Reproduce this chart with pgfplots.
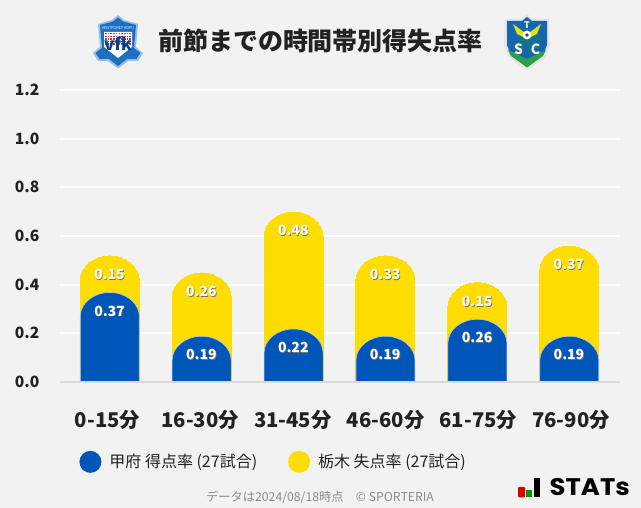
\documentclass[border=0pt]{standalone}
\usepackage{fontspec}
\setmainfont{Noto Sans CJK JP}
\newfontfamily\statsfont{Poppins}
\usepackage{pgfplots}
\usepackage{pgfplotstable}
\pgfplotsset{compat=1.18}
\definecolor{bg}{HTML}{F2F2F2}
\definecolor{kofu}{HTML}{0056B8}
\definecolor{tochigi}{HTML}{FFDD00}
\definecolor{baseln}{HTML}{D9D9D9}
\definecolor{txt}{HTML}{222222}
\definecolor{vfblue}{HTML}{1F6FC0}
\definecolor{vfred}{HTML}{C8324A}
\definecolor{tsblue}{HTML}{1565B0}
\definecolor{tsgreen}{HTML}{2E9E4F}
\pgfplotstableread{
i gf ga
0 0.37 0.15
1 0.19 0.26
2 0.22 0.48
3 0.19 0.33
4 0.26 0.15
5 0.19 0.37
}\ratedata
\pgfdeclareplotmark{roundbar}{%
  \pgfpathmoveto{\pgfqpoint{-29.2pt}{-400pt}}%
  \pgfpathlineto{\pgfqpoint{-29.2pt}{-24.5pt}}%
  \pgfpathcurveto{\pgfqpoint{-29.2pt}{-11.25pt}}{\pgfqpoint{-16pt}{-0.5pt}}{\pgfqpoint{0.3pt}{-0.5pt}}%
  \pgfpathcurveto{\pgfqpoint{16.6pt}{-0.5pt}}{\pgfqpoint{29.8pt}{-11.25pt}}{\pgfqpoint{29.8pt}{-24.5pt}}%
  \pgfpathlineto{\pgfqpoint{29.8pt}{-400pt}}%
  \pgfpathclose
  \pgfusepathqfillstroke
}
\newcommand{\shadowed}[1]{\rlap{\kern0.7pt\raisebox{-0.7pt}{\textcolor{black!55}{#1}}}\textcolor{white}{#1}}
\begin{document}
\begin{tikzpicture}[x=1pt,y=1pt]
\fill[bg] (0,0) rectangle (641,508);
\path[use as bounding box] (0,0) rectangle (641,508);
\begin{axis}[
  at={(60pt,126pt)}, anchor=south west,
  scale only axis, width=560pt, height=292pt,
  xmin=-0.5386, xmax=5.555, ymin=0, ymax=1.2,
  axis line style={draw=none},
  axis x line*=bottom, axis y line*=left,
  ytick={0,0.2,0.4,0.6,0.8,1.0,1.2},
  /pgf/number format/fixed,
  /pgf/number format/zerofill,
  /pgf/number format/precision=1,
  /pgf/number format/assume math mode=true,
  yticklabel style={font=\fontsize{15.6}{16}\selectfont\bfseries, text=txt, xshift=-17pt},
  major tick length=0pt,
  ymajorgrids, grid style={white,line width=2pt},
  xtick={0,1,2,3,4,5},
  xticklabels={0-15分,16-30分,31-45分,46-60分,61-75分,76-90分},
  xticklabel style={font=\fontsize{20.3}{21}\selectfont\bfseries, text=txt, yshift=-24.5pt, xshift={(\ticknum-2.5)*0.8pt}},
  clip mode=individual, clip marker paths=true,
  point meta=explicit,
  nodes near coords={\shadowed{\pgfmathprintnumber[fixed,zerofill,precision=2]{\pgfplotspointmeta}}},
  every node near coord/.style={anchor=center, yshift=-19.5pt, font=\fontsize{14}{14}\selectfont\bfseries, inner sep=0pt},
  legend columns=2,
  legend style={at={(0.0236,-0.2735)}, anchor=west, draw=none, fill=none, font=\fontsize{16}{16}\selectfont, text=txt, /tikz/every even column/.append style={column sep=23pt}, inner sep=0pt},
  legend cell align=left,
]
\addlegendimage{legend image code/.code={\path[draw=none,fill=none] (-17pt,0pt) -- (17pt,0pt); \fill[kofu,draw=none] (0pt,0pt) circle (11pt);}}
\addlegendentry{甲府 得点率 (27試合)}
\addlegendimage{legend image code/.code={\path[draw=none,fill=none] (-17pt,0pt) -- (17pt,0pt); \fill[tochigi,draw=none] (0pt,0pt) circle (11pt);}}
\addlegendentry{栃木 失点率 (27試合)}
\addplot[forget plot, only marks, mark=roundbar, mark options={fill=tochigi,draw=tochigi,line width=0pt}]
  table[x=i, y expr=\thisrow{gf}+\thisrow{ga}, meta=ga] {\ratedata};
\addplot[forget plot, only marks, mark=roundbar, mark options={fill=kofu,draw=white!70!kofu,line width=0.6pt}]
  table[x=i, y=gf, meta=gf] {\ratedata};
\draw[baseln,line width=2pt] (axis cs:-0.5386,0) -- (axis cs:5.555,0);
\end{axis}
\node[anchor=center, text=txt, font=\fontsize{25}{25}\selectfont\bfseries] at (320.5,467) {前節までの時間帯別得失点率};
\node[anchor=center,inner sep=0pt,text=black!45,font=\fontsize{12.25}{12.5}\selectfont] at (320,11) {データは2024/08/18時点\quad © SPORTERIA};
% emblems and STATs logo, in pixel coordinates of the reference
\begin{scope}[shift={(0,508)},y=-1pt]
  % Kofu emblem
  \fill[white!55!vfblue] (118,15) -- (124,20) -- (138,24) -- (136,47) -- (143,53) -- (138,61) -- (128,61) -- (118,68.5) -- (108,61) -- (98,61) -- (93,53) -- (100,47) -- (98,24) -- (112,20) -- cycle;
  \fill[vfblue] (118,17.5) -- (123,21.5) -- (136,25) -- (134,48) -- (140.5,53) -- (136.5,59) -- (127,59) -- (118,66) -- (109,59) -- (99.5,59) -- (95.5,53) -- (102,48) -- (100,25) -- (113,21.5) -- cycle;
  \fill[white] (104,32) -- (132,32) -- (132,47) -- (118,58) -- (104,47) -- cycle;
  \foreach \yy in {33,35.6,38.2,40.8,43.4} \foreach \xx in {105,107.7,110.4,113.1,115.8,118.5,121.2,123.9,126.6,129.3} \fill[vfred] (\xx,\yy) rectangle ++(1.6,1.5);
  \node[text=kofu!75!black,inner sep=0pt,font=\fontsize{17}{17}\selectfont\bfseries] at (118,44) {vfk};
  \node[text=white,inner sep=0pt,font=\fontsize{3.8}{3.8}\selectfont] at (118,28) {VENTFORET KOFU};
  % Tochigi emblem
  \fill[white!80!gray] (527,14) -- (533,19) -- (549,19) -- (550,45) -- (545,58) -- (527,70.5) -- (509,58) -- (504,45) -- (505,19) -- (521,19) -- cycle;
  \fill[tsblue] (527,17) -- (532,21) -- (547,21) -- (547,45) -- (543,55) -- (527,66) -- (511,55) -- (507,45) -- (507,21) -- (522,21) -- cycle;
  \foreach \a in {20,50,...,160} \draw[green!65!black,line width=0.7pt] (527,35) -- ++(\a:17);
  \fill[tsgreen] (508,50) -- (527,59) -- (546,50) -- (543,56) -- (527,67.5) -- (511,56) -- cycle;
  \fill[yellow!85!green] (513,24) -- (525,33) -- (525,38) -- (517,34) -- cycle;
  \fill[yellow!85!green] (541,24) -- (529,33) -- (529,38) -- (537,34) -- cycle;
  \fill[white] (527,35) circle (4.5);
  \fill[black!75] (527,35) circle (1.8);
  \node[text=white,inner sep=0pt,font=\fontsize{9}{9}\selectfont\bfseries] at (527,25.5) {T};
  \node[text=white,inner sep=0pt,font=\fontsize{14}{14}\selectfont\bfseries] at (518.5,49) {S};
  \node[text=white,inner sep=0pt,font=\fontsize{14}{14}\selectfont\bfseries] at (535.5,49) {C};
  % STATs logo
  \fill[red!85!black,rounded corners=1pt] (518,487) rectangle (525,497.5);
  \fill[green!60!black] (526,490) rectangle (532,497.5);
  \fill[black] (533.5,478) rectangle (540,497.5);
  \node[anchor=west,inner sep=0pt,xscale=1.08,text=black,font=\statsfont\bfseries\fontsize{24}{24}\selectfont] at (549.5,487.5) {STATs};
\end{scope}
\end{tikzpicture}
\end{document}
